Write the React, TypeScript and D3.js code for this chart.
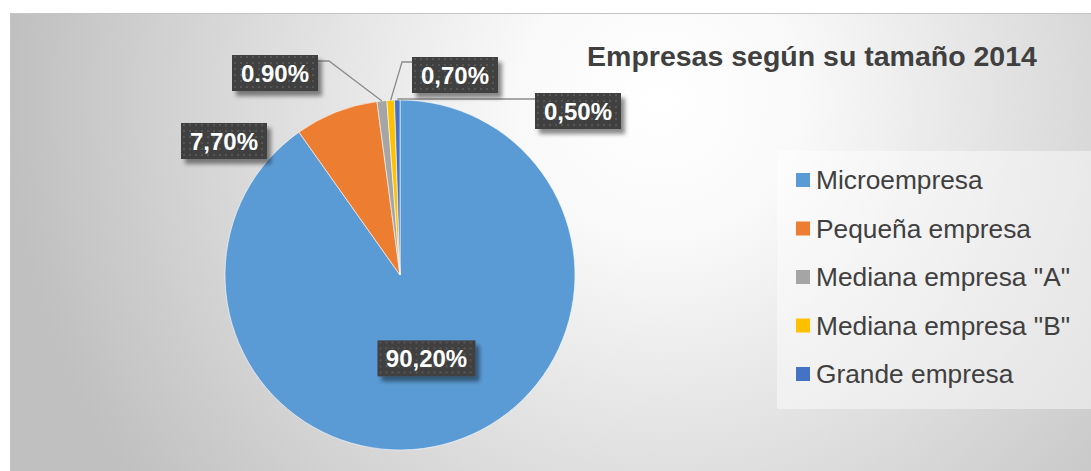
import { useEffect, useRef } from 'react';
import * as d3 from 'd3';

const categories = ['Microempresa', 'Pequeña empresa', 'Mediana empresa "A"', 'Mediana empresa "B"', 'Grande empresa'];
const shares = [90.2, 7.7, 0.9, 0.7, 0.5];
const labelTexts = ['90,20%', '7,70%', '0.90%', '0,70%', '0,50%'];
const colors = ['#5b9bd5', '#ed7d31', '#a5a5a5', '#ffc000', '#4472c4'];
const title = 'Empresas según su tamaño 2014';

// label box centres, relative to the pie centre (Excel's own placement)
const labelOffsets: [number, number][] = [
    [0, 0], // centroid used for the big slice
    [-176, -134],
    [-125, -202],
    [55, -200],
    [178, -164],
];

const App = () => {
    const ref = useRef<SVGSVGElement>(null);

    useEffect(() => {
        const width = 1091;
        const height = 471;
        const cx = 400;
        const cy = 275;
        const radius = 175;

        const svg = d3.select(ref.current).attr('width', width).attr('height', height);
        svg.selectAll('*').remove();

        const defs = svg.append('defs');
        const grad = defs.append('radialGradient')
            .attr('id', 'bg')
            .attr('gradientUnits', 'userSpaceOnUse')
            .attr('cx', 660).attr('cy', 100).attr('r', 650);
        grad.append('stop').attr('offset', '0').attr('stop-color', '#ffffff');
        grad.append('stop').attr('offset', '0.22').attr('stop-color', '#f9f9f9');
        grad.append('stop').attr('offset', '1').attr('stop-color', '#c0c0c0');

        const pat = defs.append('pattern')
            .attr('id', 'dots')
            .attr('width', 6).attr('height', 6)
            .attr('patternUnits', 'userSpaceOnUse');
        pat.append('rect').attr('width', 6).attr('height', 6).attr('fill', '#404040');
        pat.append('rect').attr('x', 1).attr('y', 1).attr('width', 2).attr('height', 2).attr('fill', '#565656');

        const shadow = defs.append('filter').attr('id', 'shadow')
            .attr('x', '-20%').attr('y', '-20%').attr('width', '150%').attr('height', '160%');
        shadow.append('feDropShadow')
            .attr('dx', 4).attr('dy', 5).attr('stdDeviation', 2)
            .attr('flood-color', '#000').attr('flood-opacity', 0.45);

        // chart area
        svg.append('rect')
            .attr('x', 10.5).attr('y', 13.5)
            .attr('width', width).attr('height', height)
            .attr('fill', 'url(#bg)')
            .attr('stroke', '#c4c4c4');

        // title
        svg.append('text')
            .attr('x', 812).attr('y', 66)
            .attr('text-anchor', 'middle')
            .attr('font-family', 'Liberation Sans, Arial, sans-serif')
            .attr('font-weight', 'bold')
            .attr('font-size', 28.5)
            .attr('fill', '#404040')
            .text(title);

        // pie
        const data = categories.map((c, i) => ({ name: c, value: shares[i], color: colors[i], label: labelTexts[i], off: labelOffsets[i] }));
        type D = typeof data[number];
        const pie = d3.pie<D>().value((d) => d.value).sort(null);
        const arc = d3.arc<d3.PieArcDatum<D>>().innerRadius(0).outerRadius(radius);
        const arcs = pie(data);

        const g = svg.append('g').attr('transform', `translate(${cx},${cy})`);
        g.selectAll('path')
            .data(arcs)
            .enter()
            .append('path')
            .attr('d', arc)
            .attr('fill', (d) => d.data.color)
            .attr('stroke', '#ffffff')
            .attr('stroke-width', 0.6);

        // label positions
        const labelPos = arcs.map((a, i) => {
            if (i === 0) {
                return arc.centroid(a) as [number, number];
            }
            return a.data.off;
        });

        // leader lines for the three small slices
        const edge = (a: d3.PieArcDatum<D>) => {
            const m = (a.startAngle + a.endAngle) / 2;
            return [Math.sin(m) * radius, -Math.cos(m) * radius];
        };
        const boxW = 86;
        const boxH = 36;
        const leaders = [
            { i: 2, pts: (p: number[], e: number[]) => [[p[0] + boxW / 2, p[1] - 12], [p[0] + boxW / 2 + 11, p[1] - 12], e] },
            { i: 3, pts: (p: number[], e: number[]) => [[p[0] - boxW / 2, p[1] - 13], [p[0] - boxW / 2 - 10, p[1] - 13], e] },
            { i: 4, pts: (p: number[], e: number[]) => [[p[0] - boxW / 2, p[1] - 12], [e[0], p[1] - 12]] },
        ];
        leaders.forEach((l) => {
            const pts = l.pts(labelPos[l.i], edge(arcs[l.i]));
            g.append('path')
                .attr('d', d3.line()(pts as [number, number][]))
                .attr('fill', 'none')
                .attr('stroke', '#8c8c8c')
                .attr('stroke-width', 1.3);
        });

        // label boxes
        const lab = g.selectAll('g.lab')
            .data(arcs)
            .enter()
            .append('g')
            .attr('class', 'lab')
            .attr('transform', (_d, i) => `translate(${labelPos[i][0]},${labelPos[i][1]})`);
        lab.append('rect')
            .attr('x', (d) => -(d.data.label.length > 5 ? 98 : boxW) / 2)
            .attr('y', -boxH / 2)
            .attr('width', (d) => (d.data.label.length > 5 ? 98 : boxW))
            .attr('height', boxH)
            .attr('fill', 'url(#dots)')
            .attr('filter', 'url(#shadow)');
        lab.append('text')
            .attr('text-anchor', 'middle')
            .attr('y', 8.5)
            .attr('font-family', 'Liberation Sans, Arial, sans-serif')
            .attr('font-weight', 'bold')
            .attr('font-size', 24)
            .attr('fill', '#ffffff')
            .text((d) => d.data.label);

        // legend
        svg.append('rect')
            .attr('x', 777).attr('y', 151)
            .attr('width', 320).attr('height', 258)
            .attr('fill', '#ffffff')
            .attr('fill-opacity', 0.45);
        const y = d3.scalePoint<string>().domain(categories).range([180, 374]);
        const leg = svg.selectAll('g.leg')
            .data(data)
            .enter()
            .append('g')
            .attr('class', 'leg')
            .attr('transform', (d) => `translate(796,${y(d.name)})`);
        leg.append('rect')
            .attr('x', 0).attr('y', -7)
            .attr('width', 14).attr('height', 14)
            .attr('fill', (d) => d.color);
        leg.append('text')
            .attr('x', 20).attr('y', 9)
            .attr('font-family', 'Liberation Sans, Arial, sans-serif')
            .attr('font-size', 26.3)
            .attr('fill', '#404040')
            .text((d) => d.name);
    }, []);

    return <svg ref={ref} style={{ position: 'absolute', left: 0, top: 0 }} />;
};

export default App;
